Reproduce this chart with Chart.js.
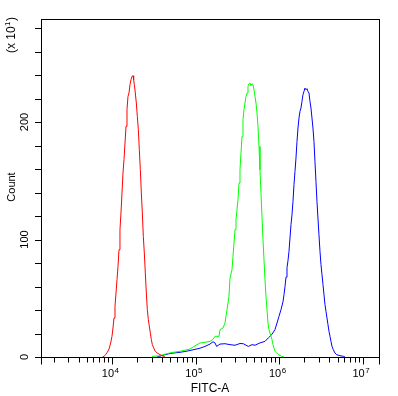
<!DOCTYPE html>
<html lang="en">
<head>
    <meta charset="UTF-8">
    <title>FITC-A histogram</title>
    <script src="https://cdn.jsdelivr.net/npm/chart.js"></script>
    <style>
        body { margin: 0; background: #fff; }
        canvas { display: block; }
    </style>
</head>
<body>
    <canvas id="histChart" width="398" height="396"></canvas>

    <script>
        // FITC-A values (bin positions) and counts (x10) per sample
        const redX = [7700, 8020, 8400, 8790, 9210, 9640, 10000, 10280, 10570, 10860, 11170, 11480, 11800, 12130, 12460, 12810, 13170, 13540, 13920, 14310, 14710, 15120, 15540, 15970, 16420, 16880, 17350, 17840, 18170, 18510, 19020, 19550, 20100, 20660, 21230, 21830, 22440, 23070, 23710, 24370, 25050, 25750, 26470, 27210, 27970, 28750, 29550, 30380, 31520, 33000, 34860, 37530, 41140, 43000];
        const redY = [0, 0.6, 2, 4, 6.8, 11.9, 17.6, 24.7, 33.2, 43.1, 54.5, 65.8, 77.2, 91.3, 108.4, 122.6, 139.6, 156.6, 168, 182.1, 196.3, 210.5, 221.8, 224.7, 231.8, 236, 238.9, 239.4, 236, 231.8, 224.7, 216.2, 204.8, 193.5, 176.5, 159.5, 139.6, 122.6, 102.7, 88.5, 71.5, 54.5, 40.4, 31.9, 26.2, 20.6, 14.9, 10.6, 7.8, 4.8, 3.4, 2, 0.6, 0];

        const greenX = [30110, 37530, 45140, 53690, 65130, 85800, 101200, 113000, 129700, 148900, 161700, 170800, 190800, 196100, 213000, 225000, 237800, 251200, 258200, 272900, 280500, 288400, 296500, 304700, 313200, 322000, 331000, 340200, 349700, 359500, 369500, 379900, 390500, 401400, 412600, 424100, 436000, 448200, 460700, 473600, 486800, 500400, 514400, 528800, 543500, 558700, 574300, 590200, 606700, 623700, 641100, 659000, 677400, 696300, 715800, 735800, 756300, 777400, 799100, 821300, 844300, 867800, 892000, 935200, 996300, 1073000, 1144000];
        const greenY = [0.5, 1, 2.8, 4, 4.8, 6.8, 10, 11.9, 12.5, 13.3, 15, 17.6, 17.6, 23.3, 24.7, 28.9, 40.3, 51.6, 67.2, 74.3, 85.7, 97, 108.4, 116.9, 125.4, 133.9, 148.1, 159.4, 173.6, 187.8, 202, 210.5, 216.2, 221.8, 224.7, 230.4, 232.6, 233.2, 230.9, 232.6, 231.8, 227.5, 221.8, 216.2, 207.7, 196.3, 179.3, 159.4, 139.6, 119.7, 99.9, 82.8, 65.8, 51.6, 40.3, 28.9, 23.3, 20.4, 17.6, 14.8, 10.5, 7.7, 4.8, 3.4, 1.7, 0.6, 0];

        const blueX = [34550, 40760, 49430, 65130, 78990, 98450, 113000, 129700, 148900, 161700, 170800, 178900, 196100, 225000, 258200, 296500, 340200, 372600, 427600, 473600, 514400, 590200, 677400, 742000, 814700, 892000, 942800, 996100, 1052700, 1112100, 1143600, 1175600, 1208400, 1242100, 1276800, 1312200, 1349000, 1386800, 1425300, 1465200, 1506100, 1548000, 1591300, 1635800, 1681300, 1728300, 1776600, 1826000, 1877000, 1929500, 1983100, 2038500, 2095500, 2153700, 2213900, 2275800, 2339100, 2404500, 2471700, 2540400, 2611400, 2684400, 2759000, 2836200, 2915400, 2996400, 3083200, 3169600, 3257700, 3348800, 3442400, 3538100, 3637000, 3738700, 3842600, 3950000, 4060500, 4173400, 4290000, 4446900, 4658600, 4882600, 5348900, 5859900, 6140200];
        const blueY = [0, 1.5, 3, 4, 5, 6.5, 7.5, 9, 11, 13, 12, 9, 11, 11.3, 10.5, 10, 11.5, 11.3, 9, 10.5, 10, 12, 13.3, 16.2, 19, 23.3, 28.9, 34.6, 40.3, 47, 53, 60, 68, 76, 82, 89.9, 101.3, 112.6, 121.1, 132.5, 146.7, 158, 169.4, 183.5, 194.9, 203.4, 209.1, 211.9, 217.6, 223.3, 226.1, 228.9, 227.5, 228.4, 226.1, 224.7, 217.6, 211.9, 203.4, 194.9, 183.5, 166.5, 149.5, 132.5, 118.3, 104.1, 89.9, 78.6, 70.1, 61.6, 53, 44.5, 38.9, 33.2, 27.5, 21.8, 17.6, 13.3, 9.1, 6.2, 3.4, 2, 1.1, 0.6, 0];

        // axes
        const xMin = 1414, xMax = 15670000;
        const yMin = 0, yMax = 287.7;
        const xMajorTicks = [1e4, 1e5, 1e6, 1e7];
        const xMajorExp = ["4", "5", "6", "7"];
        const yTicks = [0, 20, 40, 60, 80, 100, 120, 140, 160, 180, 200, 220, 240, 260, 280];
        const yLabels = [0, 100, 200];

        const FONT = '"Liberation Sans", Arial, sans-serif';

        function pts(xs, ys) {
            return xs.map((v, i) => ({ x: v, y: ys[i] }));
        }

        // frame, ticks and labels drawn off the chart's own scales
        const axesPlugin = {
            id: "axesPlugin",
            afterDraw(chart) {
                const { ctx, chartArea: a, scales: { x, y } } = chart;
                ctx.save();
                ctx.strokeStyle = "#000";
                ctx.fillStyle = "#000";
                ctx.lineWidth = 1;
                ctx.strokeRect(a.left + 0.5, a.top + 0.5, a.right - a.left, a.bottom - a.top);

                const bottom = a.bottom + 0.5;
                ctx.beginPath();
                // x minor ticks
                for (let e = 3; e <= 7; e++) {
                    for (let k = 2; k <= 9; k++) {
                        const v = k * Math.pow(10, e);
                        if (v <= xMin || v >= xMax) continue;
                        const px = Math.round(x.getPixelForValue(v)) + 0.5;
                        ctx.moveTo(px, bottom);
                        ctx.lineTo(px, bottom + 5);
                    }
                }
                // x major ticks + ends
                [xMin, ...xMajorTicks, xMax].forEach(v => {
                    const px = Math.round(x.getPixelForValue(v)) + 0.5;
                    ctx.moveTo(px, bottom);
                    ctx.lineTo(px, bottom + 7);
                });
                // y ticks
                yTicks.forEach(v => {
                    const py = Math.round(y.getPixelForValue(v)) + 0.5;
                    ctx.moveTo(a.left + 0.5, py);
                    ctx.lineTo(a.left - 6, py);
                });
                ctx.stroke();

                // x labels 10^n
                xMajorTicks.forEach((v, i) => {
                    const px = x.getPixelForValue(v);
                    ctx.font = "11px " + FONT;
                    ctx.textAlign = "right";
                    ctx.textBaseline = "alphabetic";
                    ctx.fillText("10", px + 2, 377);
                    ctx.font = "8px " + FONT;
                    ctx.textAlign = "left";
                    ctx.fillText(xMajorExp[i], px + 2.5, 373);
                });

                // y labels, rotated
                ctx.font = "11px " + FONT;
                ctx.textAlign = "center";
                yLabels.forEach(v => {
                    const py = y.getPixelForValue(v);
                    ctx.save();
                    ctx.translate(28, py);
                    ctx.rotate(-Math.PI / 2);
                    ctx.fillText(String(v), 0, 0);
                    ctx.restore();
                });

                // axis titles
                ctx.font = "12px " + FONT;
                ctx.textAlign = "center";
                ctx.fillText("FITC-A", (a.left + a.right) / 2, 392);

                ctx.save();
                ctx.translate(15, 187);
                ctx.rotate(-Math.PI / 2);
                ctx.font = "11px " + FONT;
                ctx.fillText("Count", 0, 0);
                ctx.restore();

                // (x 10^1) multiplier
                ctx.save();
                ctx.translate(15, 35);
                ctx.rotate(-Math.PI / 2);
                ctx.font = "12px " + FONT;
                ctx.textAlign = "left";
                const w1 = ctx.measureText("(x 10").width;
                ctx.font = "8px " + FONT;
                const w2 = ctx.measureText("1").width;
                ctx.font = "12px " + FONT;
                const w3 = ctx.measureText(")").width;
                let sx = -(w1 + w2 + w3 + 1) / 2;
                ctx.fillText("(x 10", sx, 0);
                sx += w1 + 0.5;
                ctx.font = "8px " + FONT;
                ctx.fillText("1", sx, -5);
                sx += w2 + 0.5;
                ctx.font = "12px " + FONT;
                ctx.fillText(")", sx, 0);
                ctx.restore();

                ctx.restore();
            }
        };

        new Chart(document.getElementById("histChart"), {
            type: "line",
            data: {
                datasets: [
                    { label: "red", data: pts(redX, redY), borderColor: "#ff0000" },
                    { label: "green", data: pts(greenX, greenY), borderColor: "#00ff00" },
                    { label: "blue", data: pts(blueX, blueY), borderColor: "#0000ff" }
                ]
            },
            options: {
                responsive: false,
                animation: false,
                devicePixelRatio: 1,
                layout: { padding: { left: 41, top: 19, right: 19, bottom: 39 } },
                elements: {
                    line: { borderWidth: 1, tension: 0, fill: false },
                    point: { radius: 0 }
                },
                scales: {
                    x: { type: "logarithmic", min: xMin, max: xMax, display: false },
                    y: { type: "linear", min: yMin, max: yMax, display: false }
                },
                plugins: {
                    legend: { display: false },
                    tooltip: { enabled: false }
                }
            },
            plugins: [axesPlugin]
        });
    </script>
</body>
</html>
